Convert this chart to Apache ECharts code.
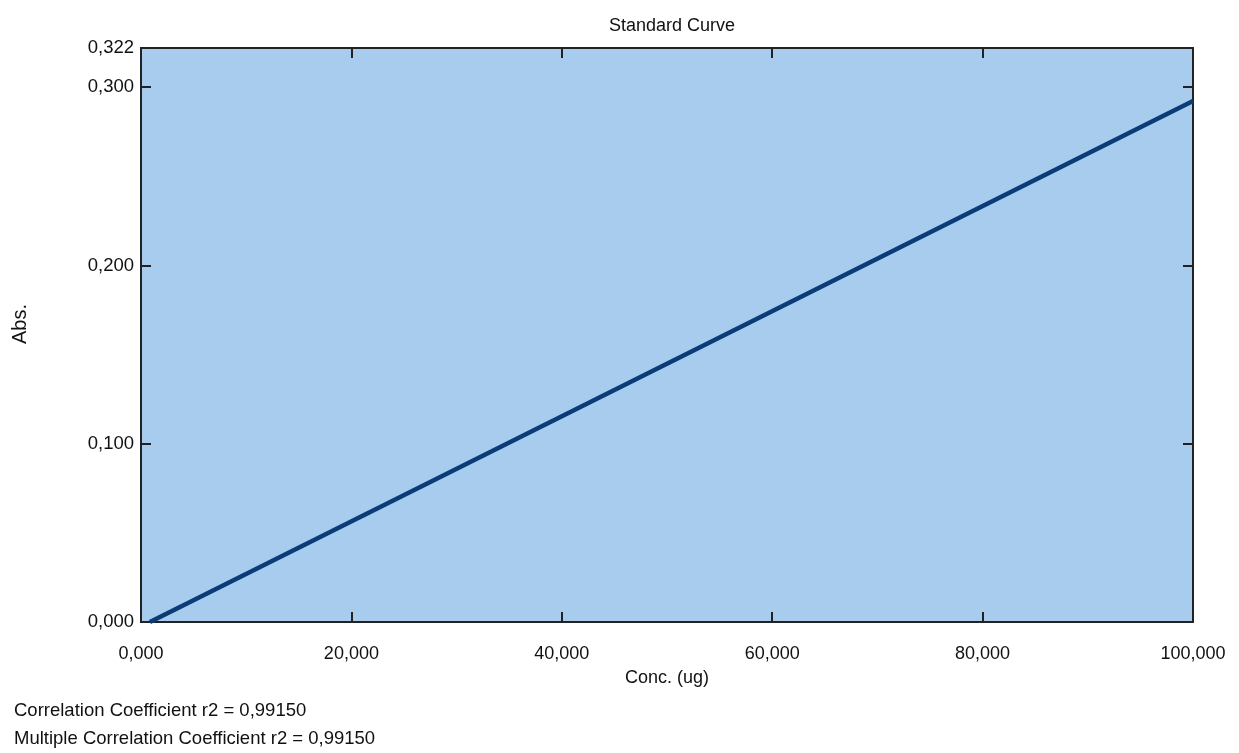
<!DOCTYPE html>
<html>
<head>
<meta charset="utf-8">
<script src="https://cdn.jsdelivr.net/npm/echarts@6/dist/echarts.min.js"></script>
<style>
html,body{margin:0;padding:0;background:#fff;}
#chart{width:1239px;height:753px;}
</style>
</head>
<body>
<div id="chart"></div>
<script>
// Data
const concValues = [0.85, 100];
const absValues = [0.0, 0.2923];
const xTicks = [0, 20, 40, 60, 80, 100];
const yTicks = [0, 0.1, 0.2, 0.3, 0.322];
const chartTitle = 'Standard Curve';
const xName = 'Conc. (ug)';
const yName = 'Abs.';
const statLines = ['Correlation Coefficient r2 = 0,99150', 'Multiple Correlation Coefficient r2 = 0,99150'];

const fmt = v => Number(v).toFixed(3).replace('.', ',');
const FONT = '"Liberation Sans", Arial, sans-serif';

const chart = echarts.init(document.getElementById('chart'));
const lineData = concValues.map((c, i) => [c, absValues[i]]);

function axisBase() {
  return {
    axisLine: { show: true, onZero: false, lineStyle: { color: '#222', width: 2 } },
    axisTick: { show: true, inside: true, length: 10, lineStyle: { color: '#222', width: 2 } },
    splitLine: { show: false }
  };
}

chart.setOption({
  animation: false,
  backgroundColor: '#fff',
  title: {
    text: chartTitle,
    left: 667, top: 12, textAlign: 'center',
    textStyle: { fontFamily: FONT, fontSize: 18, fontWeight: 'normal', color: '#111' }
  },
  grid: {
    left: 141, right: 46, top: 48, bottom: 131,
    show: true, backgroundColor: '#a8ccee', borderColor: '#333', borderWidth: 2
  },
  xAxis: [
    Object.assign(axisBase(), {
      type: 'value', min: 0, max: 100, interval: 20, position: 'bottom',
      name: xName, nameLocation: 'middle', nameGap: 47,
      nameTextStyle: { fontFamily: FONT, fontSize: 18, color: '#111' },
      axisLabel: { formatter: fmt, margin: 23, fontFamily: FONT, fontSize: 18, color: '#111',
        customValues: xTicks }
    }),
    Object.assign(axisBase(), {
      type: 'value', min: 0, max: 100, interval: 20, position: 'top',
      axisLabel: { show: false }
    })
  ],
  yAxis: [
    Object.assign(axisBase(), {
      type: 'value', min: 0, max: 0.322, interval: 0.1, position: 'left',
      name: yName, nameLocation: 'middle', nameGap: 111, nameRotate: 90,
      nameTextStyle: { fontFamily: FONT, fontSize: 20, color: '#111', padding: [0, 0, 0, 22] },
      axisLabel: { formatter: fmt, margin: 7, fontFamily: FONT, fontSize: 18.5, color: '#111',
        customValues: yTicks }
    }),
    Object.assign(axisBase(), {
      type: 'value', min: 0, max: 0.322, interval: 0.1, position: 'right',
      axisLabel: { show: false }
    })
  ],
  series: [{
    type: 'line',
    data: lineData,
    showSymbol: false,
    lineStyle: { color: '#0b3c78', width: 4.5 },
    z: 5
  }],
  graphic: statLines.map((t, i) => ({
    type: 'text', left: 14, top: 701 + i * 28,
    style: { text: t, font: '18.5px ' + FONT, fill: '#111' }
  }))
});
</script>
</body>
</html>
